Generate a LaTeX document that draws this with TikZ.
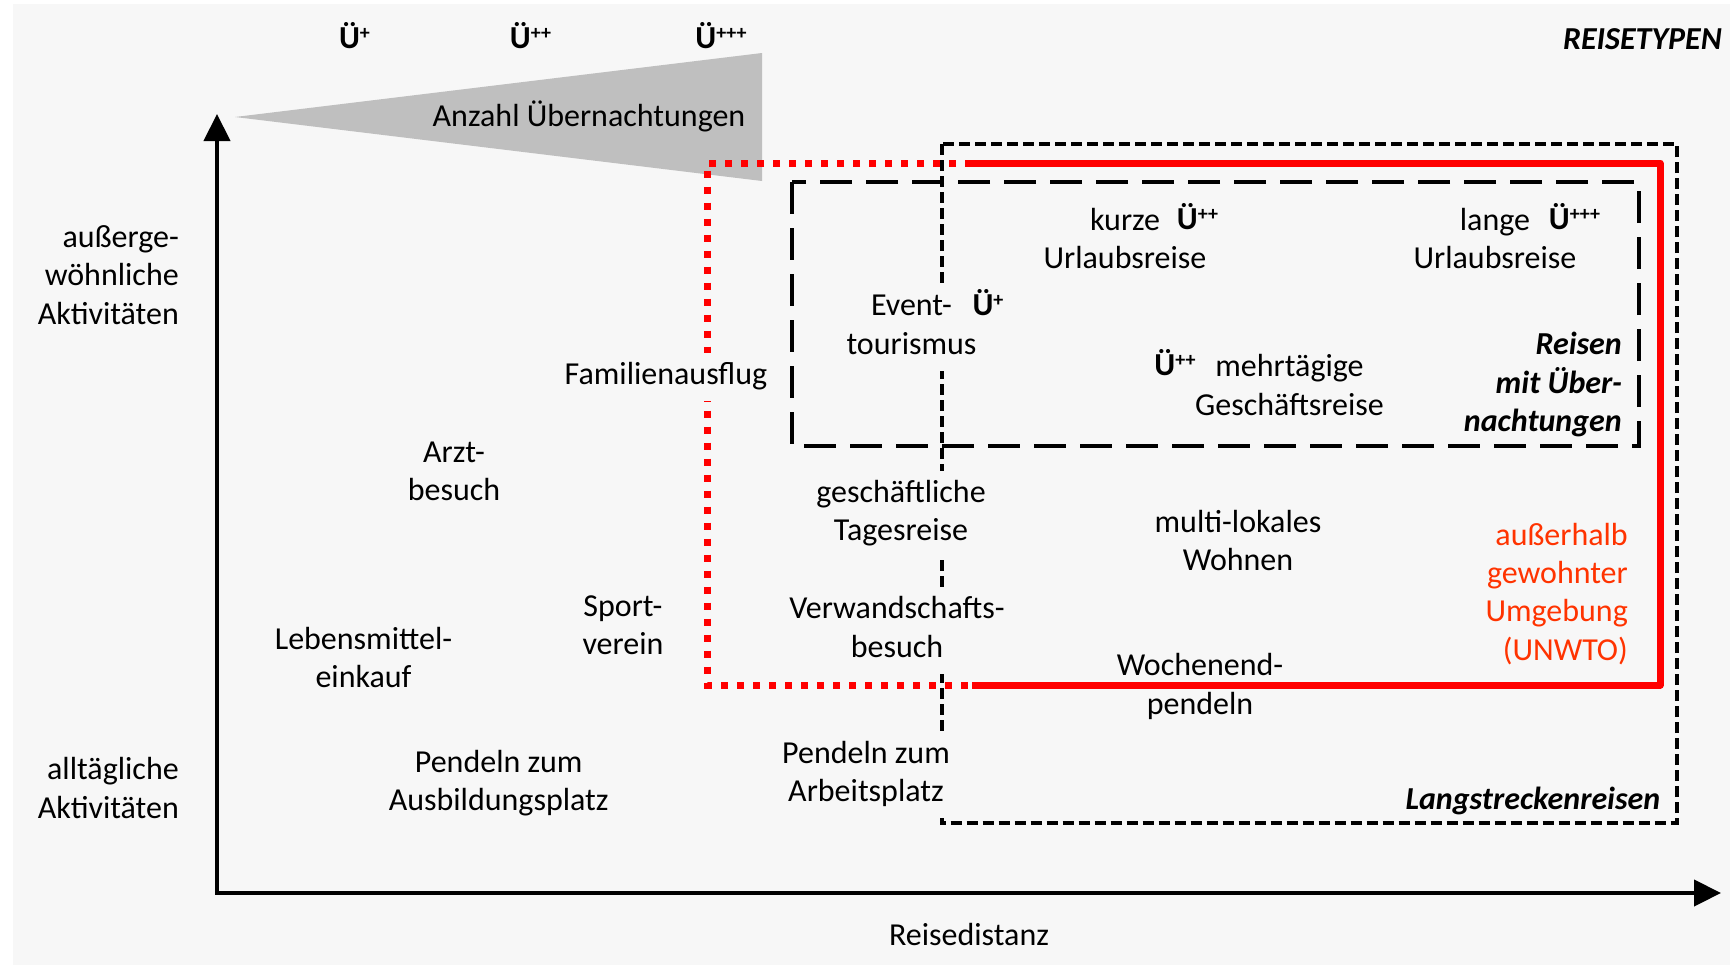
\documentclass[tikz,border=0pt]{standalone}
\usepackage{fontspec}
\setmainfont{Carlito}
\usetikzlibrary{arrows.meta}
\definecolor{bg}{HTML}{F7F7F7}
\definecolor{tri}{HTML}{BFBFBF}
\definecolor{uwred}{HTML}{FF3300}
\newcommand\fs{\fontsize{32}{38.4}\selectfont}
\newcommand\Ueb[1]{\textbf{Ü}\raisebox{9pt}{\fontsize{20}{20}\selectfont\bfseries #1}}
\begin{document}
\begin{tikzpicture}[x=1pt,y=-1pt,
  txt/.style={font=\fs, align=center, inner sep=0pt},
  cover/.style={txt, fill=bg, inner sep=5pt},
  uelab/.style={font=\fs, anchor=base, inner sep=0pt},
  axis/.style={line width=4.3pt, line join=miter, {Triangle[length=27pt,width=26pt]}-{Triangle[length=27pt,width=26pt]}},
  longbox/.style={line width=4pt, dash pattern=on 11pt off 5pt},
  overnight/.style={line width=4pt, dash pattern=on 32pt off 14pt},
  redsolid/.style={draw=red, line width=7pt, line join=round},
  reddot/.style={draw=red, line width=7pt, dash pattern=on 7pt off 9pt},
]
\useasboundingbox (0,0) rectangle (1730,967);
\fill[white] (0,0) rectangle (1730,967);
\fill[bg] (13,4) rectangle (1730,965);
% triangle
\fill[tri] (235,117) -- (762,53) -- (762,181) -- cycle;
\node[txt] (anzahl) at (589,118.5) {\strut Anzahl Übernachtungen};
% boxes
\draw[longbox] (942,144) rectangle (1676.5,823.3);
\draw[overnight] (792,182) rectangle (1639,446);
\coordinate (rA) at (972,163);
\coordinate (rB) at (1660,163);
\coordinate (rC) at (1660,685);
\coordinate (rD) at (972,685);
\coordinate (rE) at (707.5,685);
\coordinate (rF) at (707.5,163);
\draw[redsolid] (rA) -- (rB) -- (rC) -- (rD);
\draw[reddot] (rA) -- (rF) -- (rE) -- (rD);
% axes
\coordinate (O) at (217,893);
\coordinate (Ytip) at (217,114);
\coordinate (Xtip) at (1721,893);
\draw[axis] (Ytip) -- (O) -- (Xtip);
% texts
\node[txt, anchor=east, align=right] (ausserg) at (179,278) {\strut außerge-\\\strut wöhnliche\\\strut Aktivitäten};
\node[txt, anchor=east, align=right] (alltag) at (179,791.5) {\strut alltägliche\\\strut Aktivitäten};
\node[txt] (arzt) at (454,474) {\strut Arzt-\\\strut besuch};
\node[txt] (lebens) at (363.5,661) {\strut Lebensmittel-\\\strut einkauf};
\node[txt] (sport) at (623,628) {\strut Sport-\\\strut verein};
\node[cover] (famil) at (666,377) {\strut Familienausflug};
\node[txt] (ausbild) at (498.7,784) {\strut Pendeln zum\\\strut Ausbildungsplatz};
\node[cover] (arbeit) at (866,775) {\strut Pendeln zum\\\strut Arbeitsplatz};
\node[cover] (gesch) at (901,514) {\strut geschäftliche\\\strut Tagesreise};
\node[cover] (verw) at (897,630.5) {\strut Verwandschafts-\\\strut besuch};
\node[txt] (multi) at (1238,544) {\strut multi-lokales\\\strut Wohnen};
\node[txt] (wochen) at (1200,687.5) {\strut Wochenend-\\\strut pendeln};
\node[txt, anchor=east, align=right, text=uwred] (unwto) at (1628,595) {\strut außerhalb\\\strut gewohnter\\\strut Umgebung\\\strut (UNWTO)};
\node[txt, anchor=east, font=\fs\bfseries\itshape] (lang) at (1660.5,801.5) {\strut Langstreckenreisen};
\node[txt] (dist) at (969,937.5) {\strut Reisedistanz};
\node[txt, anchor=east, font=\fs\bfseries\itshape] (typen) at (1722,42) {\strut REISETYPEN};
\node[cover] (event) at (911.5,327.5) {\strut Event-\\\strut tourismus};
\node[txt] (kurz) at (1125,242) {\strut kurze\\\strut Urlaubsreise};
\node[txt] (langu) at (1495,242) {\strut lange\\\strut Urlaubsreise};
\node[txt] (mehr) at (1289.5,388.5) {\strut mehrtägige\\\strut Geschäftsreise};
\node[txt, anchor=east, align=right, font=\fs\bfseries\itshape] (reisen) at (1622,385.5) {\strut Reisen\\\strut mit Über-\\\strut nachtungen};
% overnight markers
\node[uelab] (u1) at (354.5,48) {\Ueb{+}};
\node[uelab] (u2) at (530.5,48) {\Ueb{++}};
\node[uelab] (u3) at (721,48) {\Ueb{+++}};
\node[uelab] (ukurz) at (1197.5,229.5) {\Ueb{++}};
\node[uelab] (ulang) at (1574.5,229.5) {\Ueb{+++}};
\node[uelab] (uevent) at (988,315.5) {\Ueb{+}};
\node[uelab] (umehr) at (1175,375.5) {\Ueb{++}};
\end{tikzpicture}
\end{document}
